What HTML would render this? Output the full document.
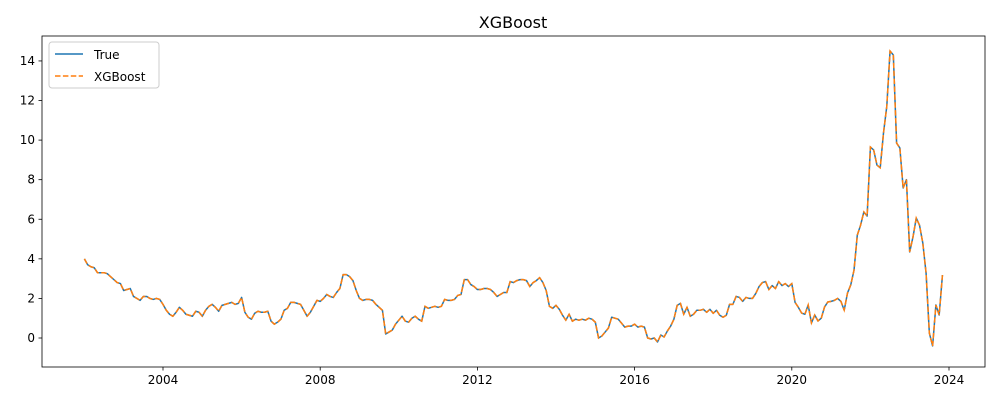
<!DOCTYPE html>
<html><head><meta charset="utf-8"><style>
body{margin:0;background:#fff;font-family:"Liberation Sans","DejaVu Sans",sans-serif}
svg text{font-family:"DejaVu Sans","Liberation Sans",sans-serif}
</style></head><body>
<svg id="chart" width="1000" height="400" xmlns="http://www.w3.org/2000/svg">
<rect width="1000" height="400" fill="#fff"/>
<text x="513" y="28" text-anchor="middle" font-size="16">XGBoost</text>
<g id="plot"></g>
</svg>
<script>
const startYear = 2002;
const yTicks = [0,2,4,6,8,10,12,14];
const xTicks = [2004,2008,2012,2016,2020,2024];
const trueVals = [
4.0,3.7,3.6,3.55,3.3,3.3,3.3,3.25,3.1,2.95,2.8,2.75,
2.4,2.45,2.5,2.1,2.0,1.9,2.1,2.1,2.0,1.95,2.0,1.95,
1.7,1.4,1.2,1.1,1.3,1.55,1.4,1.2,1.15,1.1,1.35,1.3,
1.1,1.4,1.6,1.7,1.55,1.35,1.65,1.7,1.75,1.8,1.7,1.75,
2.05,1.3,1.05,0.95,1.25,1.35,1.3,1.3,1.35,0.85,0.7,0.8,
0.95,1.4,1.5,1.8,1.8,1.75,1.7,1.4,1.1,1.3,1.6,1.9,
1.85,2.0,2.2,2.1,2.05,2.3,2.5,3.2,3.2,3.1,2.9,2.4,
2.0,1.9,1.95,1.95,1.9,1.7,1.55,1.4,0.2,0.3,0.4,0.7,
0.9,1.1,0.85,0.8,1.0,1.1,0.95,0.85,1.6,1.5,1.55,1.6,
1.55,1.6,1.95,1.9,1.9,1.95,2.15,2.2,2.95,2.95,2.7,2.6,
2.45,2.45,2.5,2.5,2.45,2.3,2.1,2.2,2.3,2.3,2.85,2.8,
2.9,2.95,2.95,2.9,2.6,2.8,2.9,3.05,2.8,2.4,1.6,1.5,
1.65,1.45,1.15,0.9,1.2,0.85,0.95,0.9,0.95,0.9,1.0,0.95,
0.8,0.0,0.1,0.3,0.5,1.05,1.0,0.95,0.75,0.55,0.6,0.6,
0.7,0.55,0.6,0.55,0.0,-0.05,0.0,-0.2,0.15,0.05,0.35,0.6,
0.95,1.65,1.75,1.2,1.55,1.1,1.2,1.4,1.4,1.45,1.3,1.45,
1.25,1.4,1.15,1.05,1.15,1.7,1.7,2.1,2.05,1.85,2.05,2.0,
2.0,2.25,2.6,2.8,2.85,2.45,2.65,2.5,2.85,2.65,2.75,2.6,
2.75,1.8,1.55,1.26,1.2,1.67,0.76,1.16,0.86,1.0,1.57,1.82,1.85,1.9,2.0,1.85,1.41,
2.27,2.68,3.43,5.2,5.7,6.37,6.16,9.65,9.5,8.74,8.6,10.36,11.7,14.5,14.3,9.85,9.6,
7.58,8.0,4.35,5.1,6.06,5.7,4.8,3.28,0.25,-0.4,1.67,1.16,3.18
];
const predVals = trueVals.slice();

const L=42,R=985,T=36,B=367;
const xs = t => 84.4 + (t - startYear) * 39.3;
const ys = v => 338 - v * 19.79;
const ns='http://www.w3.org/2000/svg';
const g=document.getElementById('plot');
function mk(tag,attrs){const e=document.createElementNS(ns,tag);for(const k in attrs)e.setAttribute(k,attrs[k]);g.appendChild(e);return e;}

yTicks.forEach(v=>{
  const y=ys(v);
  const tk=mk('line',{x1:L-3.5,x2:L,y1:y,y2:y,stroke:'#000','stroke-width':0.8});
  
  
  const tx=mk('text',{x:L-7,y:y+4,'text-anchor':'end','font-size':12});
  
  
  tx.textContent=v;
});
xTicks.forEach(t=>{
  const x=xs(t);
  const tk=mk('line',{x1:x,x2:x,y1:B,y2:B+3.5,stroke:'#000','stroke-width':0.8});
  
  
  const tx=mk('text',{x:x,y:B+17,'text-anchor':'middle','font-size':12});
  
  
  tx.textContent=t;
});
function pts(arr){return arr.map((v,i)=>xs(startYear+i/12).toFixed(2)+','+ys(v).toFixed(2)).join(' ');}
const l1=mk('polyline',{points:pts(trueVals),fill:'none',stroke:'#1f77b4','stroke-width':1.5,'stroke-linejoin':'round'});


const l2=mk('polyline',{points:pts(predVals),fill:'none',stroke:'#ff7f0e','stroke-width':1.5,'stroke-dasharray':'5.5,2.4'});


const fr=mk('rect',{x:L,y:T,width:R-L,height:B-T,fill:'none',stroke:'#000','stroke-width':0.8});



const lg=mk('rect',{x:49,y:42,width:110,height:46,rx:3,fill:'#fff','fill-opacity':0.8,stroke:'#ccc','stroke-width':1});


const s1=mk('line',{x1:55,x2:83,y1:54,y2:54,stroke:'#1f77b4','stroke-width':1.5});


const t1=mk('text',{x:94,y:59,'font-size':12});


t1.textContent='True';
const s2=mk('line',{x1:55,x2:83,y1:76,y2:76,stroke:'#ff7f0e','stroke-width':1.5,'stroke-dasharray':'5.5,2.4'});


const t2=mk('text',{x:94,y:81,'font-size':12});


t2.textContent='XGBoost';
</script>
</body></html>
